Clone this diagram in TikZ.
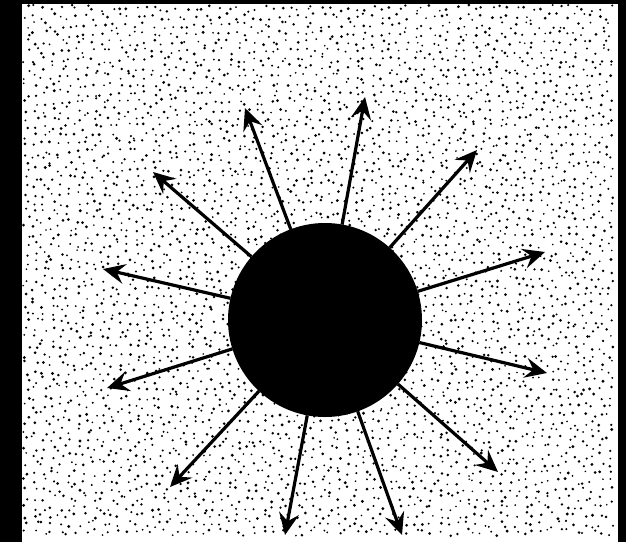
\documentclass[tikz,border=0pt]{standalone}
\usetikzlibrary{arrows.meta}
\begin{document}
\begin{tikzpicture}[x=1pt,y=-1pt,
  ray/.style={line width=3.2pt,-{Stealth[length=22pt,width=20pt,inset=8pt]}},
  speck/.style={fill=black}]
\useasboundingbox (0,0) rectangle (626,542);
\fill[black] (0,0) rectangle (626,542);
\fill[white] (22,4) rectangle (618,542);
\pgfmathsetseed{4711}
\foreach \gx in {0,...,69}{
  \foreach \gy in {0,...,62}{
    \pgfmathsetmacro\px{26.5+8.45*\gx+7*(rnd-0.5)}
    \pgfmathsetmacro\py{8.5+8.45*\gy+7*(rnd-0.5)}
    \pgfmathsetmacro\pr{0.9+0.7*rnd}
    \fill[speck] (\px,\py) circle (\pr pt);
  }
}
\node[circle,fill=black,minimum size=194pt,inner sep=0pt,outer sep=0pt] (sun) at (325,320) {};
\coordinate (t1) at (245,108);
\coordinate (t2) at (365,97);
\coordinate (t3) at (153,172);
\coordinate (t4) at (477,150);
\coordinate (t5) at (103,269);
\coordinate (t6) at (107,388);
\coordinate (t7) at (545,252);
\coordinate (t8) at (547,373);
\coordinate (t9) at (498,472);
\coordinate (t10) at (402,535);
\coordinate (t11) at (285,535);
\coordinate (t12) at (170,487);
\foreach \t in {t1,t2,t3,t4,t5,t6,t7,t8,t9,t10,t11,t12}
  \draw[ray] (sun) -- (\t);
\end{tikzpicture}
\end{document}
